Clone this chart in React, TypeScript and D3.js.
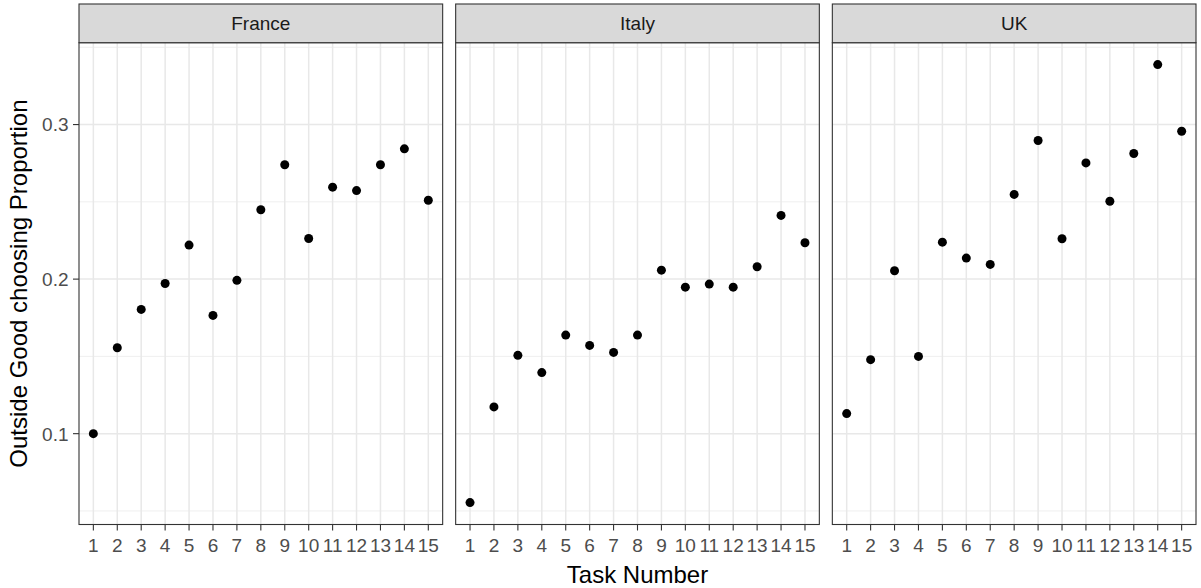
import React from 'react';
import * as d3 from 'd3';

// values
const countries = ['France', 'Italy', 'UK'];
const tasks = [1, 2, 3, 4, 5, 6, 7, 8, 9, 10, 11, 12, 13, 14, 15];
const france = [0.100, 0.1556, 0.1804, 0.1972, 0.222, 0.1765, 0.1992, 0.2449, 0.274, 0.2263, 0.2595, 0.2573, 0.274, 0.2843, 0.251];
const italy = [0.0554, 0.1173, 0.1507, 0.1395, 0.1638, 0.1571, 0.1526, 0.1638, 0.2058, 0.1948, 0.1968, 0.1948, 0.208, 0.2412, 0.2235];
const uk = [0.113, 0.1479, 0.2054, 0.15, 0.2239, 0.2136, 0.2095, 0.2548, 0.2897, 0.2261, 0.2752, 0.2504, 0.2813, 0.3388, 0.2957];
const yBreaks = [0.1, 0.2, 0.3];
const yMinor = [0.05, 0.15, 0.25, 0.35];

const series = [france, italy, uk];

const W = 1201;
const H = 588;
const plotLeft = 79;
const plotRight = 1196;
const gap = 13;
const stripTop = 4;
const panelTop = 42.7;
const panelBottom = 524.5;
const font = '"Liberation Sans", Arial, Helvetica, sans-serif';

export default function App() {
  const panelW = (plotRight - plotLeft - 2 * gap) / 3;

  const all = series.flat();
  const [lo, hi] = d3.extent(all) as [number, number];
  const pad = (hi - lo) * 0.05;
  const y = d3.scaleLinear().domain([lo - pad, hi + pad]).range([panelBottom, panelTop]);

  const x = d3.scalePoint<number>().domain(tasks).range([0, panelW]).padding(0.6);

  return (
    <svg width={W} height={H} style={{ position: 'absolute', left: 0, top: 0, background: '#fff' }}>
      {countries.map((name, i) => {
        const left = plotLeft + i * (panelW + gap);
        const vals = series[i];
        return (
          <g key={name} transform={`translate(${left},0)`}>
            <rect x={0} y={panelTop} width={panelW} height={panelBottom - panelTop} fill="#fff" />
            {/* minor grid */}
            {yMinor.filter(v => y(v) > panelTop && y(v) < panelBottom).map(v => (
              <line key={'mn' + v} x1={0} x2={panelW} y1={y(v)} y2={y(v)} stroke="#ebebeb" strokeWidth={0.8} />
            ))}
            {/* major grid */}
            {yBreaks.map(v => (
              <line key={'mj' + v} x1={0} x2={panelW} y1={y(v)} y2={y(v)} stroke="#e8e8e8" strokeWidth={1.5} />
            ))}
            {tasks.map(t => (
              <line key={'gx' + t} x1={x(t)} x2={x(t)} y1={panelTop} y2={panelBottom} stroke="#e8e8e8" strokeWidth={1.5} />
            ))}
            {/* points */}
            {vals.map((v, j) => (
              <circle key={'p' + j} cx={x(tasks[j])} cy={y(v)} r={4.5} fill="#000" />
            ))}
            {/* panel border */}
            <rect x={0} y={panelTop} width={panelW} height={panelBottom - panelTop} fill="none" stroke="#333" strokeWidth={1.1} />
            {/* strip */}
            <rect x={0} y={stripTop} width={panelW} height={panelTop - stripTop} fill="#d9d9d9" stroke="#333" strokeWidth={1.1} />
            <text x={panelW / 2} y={(stripTop + panelTop) / 2} dy="0.36em" textAnchor="middle"
              fontFamily={font} fontSize={19} fill="#1a1a1a">{name}</text>
            {/* x axis */}
            {tasks.map(t => (
              <g key={'tx' + t}>
                <line x1={x(t)} x2={x(t)} y1={panelBottom} y2={panelBottom + 6} stroke="#333" strokeWidth={1.1} />
                <text x={x(t)} y={551.7} textAnchor="middle" fontFamily={font} fontSize={19} fill="#4d4d4d">{t}</text>
              </g>
            ))}
            {/* y axis on first panel */}
            {i === 0 && yBreaks.map(v => (
              <g key={'ty' + v}>
                <line x1={-6} x2={0} y1={y(v)} y2={y(v)} stroke="#333" strokeWidth={1.1} />
                <text x={-10.5} y={y(v)} dy="0.36em" textAnchor="end" fontFamily={font} fontSize={19} fill="#4d4d4d">{v}</text>
              </g>
            ))}
          </g>
        );
      })}
      <text x={(plotLeft + plotRight) / 2} y={583} textAnchor="middle" fontFamily={font} fontSize={24} fill="#000">Task Number</text>
      <text transform={`translate(27,${(panelTop + panelBottom) / 2}) rotate(-90)`} textAnchor="middle"
        fontFamily={font} fontSize={24} fill="#000">Outside Good choosing Proportion</text>
    </svg>
  );
}
